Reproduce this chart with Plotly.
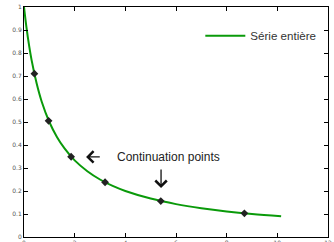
import plotly.graph_objects as go

# curve values
curve_x = [0, 0.1, 0.2, 0.3, 0.5, 0.7, 1.0, 1.3, 1.6, 2.0, 2.5, 3.0, 3.5, 4.0, 5.0, 6.0, 7.0, 8.0, 9.0, 10.15]
curve_y = [1.0, 0.909, 0.833, 0.769, 0.667, 0.588, 0.5, 0.435, 0.385, 0.333, 0.286, 0.25, 0.222, 0.2, 0.167, 0.143, 0.125, 0.111, 0.1, 0.09]

# continuation points
pts_x = [0.41, 0.97, 1.86, 3.2, 5.4, 8.7]
pts_y = [0.71, 0.505, 0.349, 0.238, 0.156, 0.103]

x_ticks = [0, 2, 4, 6, 8, 10, 12]
y_ticks = [0, 0.1, 0.2, 0.3, 0.4, 0.5, 0.6, 0.7, 0.8, 0.9, 1]
y_tick_labels = ["0", "0.1", "0.2", "0.3", "0.4", "0.5", "0.6", "0.7", "0.8", "0.9", "1"]

fig = go.Figure()
fig.add_trace(go.Scatter(x=curve_x, y=curve_y, mode="lines", name="Série entière",
                         line=dict(color="#0a9a0a", width=2, shape="spline")))
fig.add_trace(go.Scatter(x=pts_x, y=pts_y, mode="markers", showlegend=False,
                         marker=dict(symbol="diamond", size=6, color="#222222")))

fig.add_annotation(x=3.6, y=0.348, text="Continuation points", showarrow=False,
                   xanchor="left", yanchor="middle",
                   font=dict(family="Liberation Sans", size=12, color="#222222"))
fig.add_annotation(x=2.45, y=0.348, ax=3.05, ay=0.348, axref="x", ayref="y",
                   xref="x", yref="y", text="", showarrow=True,
                   arrowhead=4, arrowwidth=1.3, arrowsize=1.7, arrowcolor="#111111")
fig.add_annotation(x=5.41, y=0.213, ax=5.41, ay=0.30, axref="x", ayref="y",
                   xref="x", yref="y", text="", showarrow=True,
                   arrowhead=4, arrowwidth=1.3, arrowsize=1.7, arrowcolor="#111111")

axis_common = dict(showgrid=False, zeroline=False, showline=True, linecolor="#000000",
                   linewidth=1, mirror="ticks", ticks="inside", ticklen=4, automargin=False,
                   tickcolor="#000000", tickfont=dict(family="DejaVu Sans", size=6, color="#555555"))

fig.update_xaxes(range=[0, 12], tickvals=x_ticks, ticktext=[str(v) for v in x_ticks], **axis_common)
fig.update_yaxes(range=[0, 1], tickvals=y_ticks, ticktext=y_tick_labels, **axis_common)

fig.update_layout(
    width=334, height=242,
    margin=dict(l=24, r=6, t=7, b=5),
    paper_bgcolor="white", plot_bgcolor="white",
    legend=dict(x=0.58, y=0.875, xanchor="left", yanchor="middle", itemwidth=40,
                bgcolor="rgba(0,0,0,0)", font=dict(family="Liberation Sans", size=11.6, color="#333333")),
)

fig.write_html("out.html", config={"displayModeBar": False},
               post_script="document.body.style.margin='0';document.body.style.overflow='hidden';")
